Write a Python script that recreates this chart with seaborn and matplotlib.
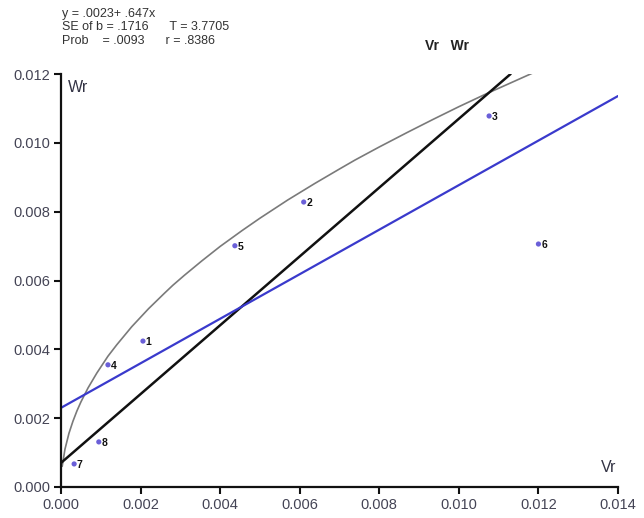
import numpy as np
import pandas as pd
import matplotlib
matplotlib.use("Agg")
import matplotlib.pyplot as plt
import seaborn as sns

# parent points (Vr, Wr)
vr = [0.00206, 0.00610, 0.01076, 0.00118, 0.00437, 0.01200, 0.00033, 0.00095]
wr = [0.00424, 0.00828, 0.01078, 0.00355, 0.00701, 0.00706, 0.00067, 0.00131]
point_labels = ["1", "2", "3", "4", "5", "6", "7", "8"]

# regression line y = .0023 + .647x (end points)
reg_x = [0.0, 0.014]
reg_y = [0.0023, 0.01136]

# unit slope limiting line (end points)
lim_x = [0.0, 0.0113]
lim_y = [0.0007, 0.0120]

# limiting parabola, points
par_x = [0.00003, 0.0001, 0.0002, 0.0003, 0.0004, 0.0005, 0.00068, 0.0009,
         0.00118, 0.0014, 0.00178, 0.0022, 0.0026, 0.00281, 0.0031, 0.00354,
         0.0040, 0.00455, 0.0050, 0.00570, 0.00638, 0.0070, 0.00739, 0.0080,
         0.0087, 0.00935, 0.0100, 0.01070, 0.0113, 0.01184]
par_y = [0.00060, 0.00110, 0.00156, 0.00191, 0.00221, 0.00247, 0.00288, 0.00331,
         0.00380, 0.00413, 0.00466, 0.00518, 0.00563, 0.00586, 0.00615, 0.00657,
         0.00699, 0.00745, 0.00781, 0.00834, 0.00882, 0.00924, 0.00950, 0.00988,
         0.01030, 0.01068, 0.01105, 0.01143, 0.01174, 0.01202]

xticks = [0.000, 0.002, 0.004, 0.006, 0.008, 0.010, 0.012, 0.014]
yticks = [0.000, 0.002, 0.004, 0.006, 0.008, 0.010, 0.012]

stats_lines = ["y = .0023+ .647x",
               "SE of b = .1716      T = 3.7705",
               "Prob    = .0093      r = .8386"]


def main():
    sns.set_style("ticks")
    plt.rcParams['font.family'] = ['Liberation Sans', 'DejaVu Sans']

    fig = plt.figure(figsize=(6.44, 5.18), dpi=100)
    ax = fig.add_axes([61 / 644, 31 / 518, 557 / 644, 413 / 518])

    pts = pd.DataFrame({"Vr": vr, "Wr": wr, "label": point_labels})

    sns.lineplot(x=par_x, y=par_y, ax=ax, color="#7a7a7a", linewidth=1.2, sort=False)
    sns.lineplot(x=lim_x, y=lim_y, ax=ax, color="#111111", linewidth=1.8)
    sns.lineplot(x=reg_x, y=reg_y, ax=ax, color="#3a3acc", linewidth=1.6)
    sns.scatterplot(data=pts, x="Vr", y="Wr", ax=ax, color="#6a5fd8", s=14,
                    edgecolor="none", zorder=5)
    for _, row in pts.iterrows():
        ax.annotate(row["label"], (row["Vr"], row["Wr"]), xytext=(2, -3),
                    textcoords="offset points", fontsize=7.5, fontweight="bold",
                    color="#111111")

    ax.set_xlim(0, 0.014)
    ax.set_ylim(0, 0.012)
    ax.set_xticks(xticks)
    ax.set_yticks(yticks)
    ax.set_xticklabels([f"{t:.3f}" for t in xticks])
    ax.set_yticklabels([f"{t:.3f}" for t in yticks])
    ax.set_xlabel("")
    ax.set_ylabel("")
    ax.tick_params(axis="both", direction="out", length=5, width=1.5,
                   labelsize=10.5, colors="#111111", labelcolor="#444455", pad=3)
    for side in ["left", "bottom"]:
        ax.spines[side].set_linewidth(1.6)
        ax.spines[side].set_color("#111111")
    sns.despine(ax=ax)
    ax.patch.set_visible(False)

    ax.text(0.012, 0.985, "Wr", transform=ax.transAxes, fontsize=11.5,
            color="#333344", va="top", ha="left")
    ax.text(0.997, 0.03, "Vr", transform=ax.transAxes, fontsize=11.5,
            color="#333344", va="bottom", ha="right")

    fig.text(447 / 644, 1 - 46 / 518, "Vr   Wr", fontsize=10, fontweight="bold",
             color="#222222", ha="center", va="center")
    for i, line in enumerate(stats_lines):
        fig.text(62 / 644, 1 - (14 + 13.5 * i) / 518, line, fontsize=9,
                 color="#333333", ha="left", va="center")

    fig.savefig("out.png", dpi=100)
    plt.close(fig)


if __name__ == "__main__":
    main()
